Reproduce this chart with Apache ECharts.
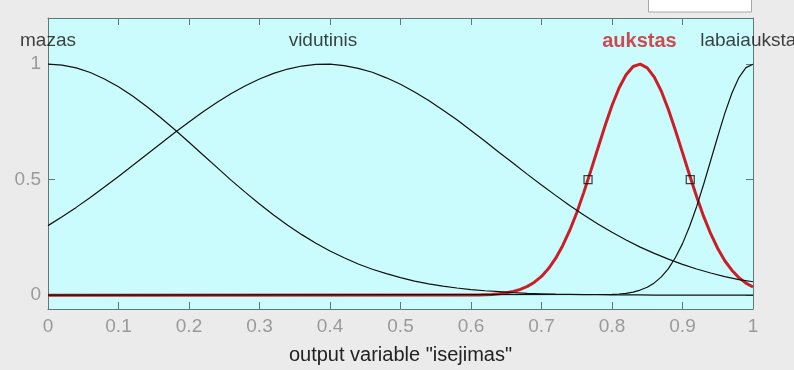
<!DOCTYPE html>
<html>
<head>
<meta charset="utf-8">
<script src="https://cdn.jsdelivr.net/npm/echarts@6/dist/echarts.min.js"></script>
<style>
  html, body { margin: 0; padding: 0; background: #ebebeb; }
  #chart { width: 794px; height: 370px; }
</style>
</head>
<body>
<div id="chart"></div>
<script>
// Membership functions of the output variable "isejimas"
const xStep = [0,0.02,0.04,0.06,0.08,0.10,0.12,0.14,0.16,0.18,0.20,0.22,0.24,0.26,0.28,0.30,0.32,0.34,0.36,0.38,0.40,0.42,0.44,0.46,0.48,0.50,0.52,0.54,0.56,0.58,0.60,0.62,0.64,0.66,0.68,0.70,0.72,0.74,0.76,0.78,0.80,0.82,0.84,0.86,0.88,0.90,0.92,0.94,0.96,0.98,1.00];

const mazas = [1,0.996,0.984,0.964,0.936,0.902,0.862,0.817,0.768,0.716,0.662,0.607,0.552,0.497,0.445,0.395,0.347,0.303,0.262,0.225,0.191,0.162,0.135,0.112,0.093,0.076,0.061,0.049,0.039,0.031,0.024,0.019,0.015,0.011,0.008,0.006,0.004,0.003,0.002,0.002,0.001,0.001,0.001,0,0,0,0,0,0,0,0];

const vidutinis = [0.301,0.339,0.380,0.423,0.468,0.514,0.561,0.609,0.657,0.704,0.750,0.794,0.835,0.873,0.907,0.936,0.960,0.979,0.992,0.999,1.000,0.994,0.982,0.965,0.941,0.913,0.880,0.843,0.802,0.759,0.713,0.666,0.618,0.571,0.523,0.477,0.432,0.388,0.347,0.308,0.272,0.239,0.208,0.181,0.156,0.133,0.113,0.096,0.080,0.067,0.058];

const aukstasX = [0,0.60,0.61,0.62,0.63,0.64,0.65,0.66,0.67,0.68,0.69,0.70,0.71,0.72,0.73,0.74,0.75,0.76,0.77,0.78,0.79,0.80,0.81,0.82,0.83,0.84,0.85,0.86,0.87,0.88,0.89,0.90,0.91,0.92,0.93,0.94,0.95,0.96,0.97,0.98,0.99,1.00];
const aukstas = [0,0.001,0.001,0.002,0.003,0.006,0.010,0.016,0.025,0.038,0.056,0.081,0.115,0.159,0.214,0.280,0.357,0.445,0.539,0.636,0.732,0.821,0.897,0.954,0.990,1.000,0.984,0.944,0.883,0.804,0.713,0.617,0.520,0.427,0.341,0.266,0.202,0.149,0.108,0.076,0.052,0.035];

const labaiX = [0,0.80,0.81,0.82,0.83,0.84,0.85,0.86,0.87,0.88,0.89,0.90,0.91,0.92,0.93,0.94,0.95,0.96,0.97,0.98,0.99,1.00];
const labaiaukstas = [0,0.003,0.005,0.008,0.013,0.022,0.034,0.053,0.079,0.115,0.163,0.223,0.297,0.383,0.480,0.583,0.687,0.787,0.874,0.942,0.985,1];

// Selected MF handle points (x where aukstas = 0.5)
const handleX = [0.766, 0.911];
const handleY = [0.5, 0.5];

// MF names and their centres
const mfNames = ['mazas', 'vidutinis', 'aukstas', 'labaiaukstas'];
const mfCenters = [0, 0.39, 0.839, 1];

const xTicks = [0,0.1,0.2,0.3,0.4,0.5,0.6,0.7,0.8,0.9,1];
const yTicks = [0, 0.5, 1];

const zip = (xs, ys) => xs.map((x, i) => [x, ys[i]]);

const frameColor = '#5e7878';
const labelColor = '#9a9a9a';
const font = 'Liberation Sans, Arial, sans-serif';
const nameY = 1.1;

const chart = echarts.init(document.getElementById('chart'));
chart.setOption({
  animation: false,
  backgroundColor: '#ebebeb',
  grid: {
    left: 48, right: 41, top: 18, bottom: 58,
    show: true, backgroundColor: '#cbfcfd', borderWidth: 0
  },
  xAxis: [{
    type: 'value', min: 0, max: 1,
    axisLine: { show: true, onZero: false, lineStyle: { color: frameColor, width: 1 } },
    axisTick: { show: true, inside: true, length: 7, customValues: xTicks, lineStyle: { color: frameColor } },
    axisLabel: { customValues: xTicks, color: labelColor, fontSize: 19, fontFamily: font, margin: 8,
      formatter: v => String(v) },
    splitLine: { show: false },
    name: 'output variable "isejimas"',
    nameLocation: 'middle', nameGap: 36,
    nameTextStyle: { color: '#222', fontSize: 20, fontFamily: font }
  }, {
    type: 'value', min: 0, max: 1, position: 'top',
    axisLine: { show: true, onZero: false, lineStyle: { color: frameColor, width: 1 } },
    axisTick: { show: true, inside: true, length: 7, customValues: xTicks, lineStyle: { color: frameColor } },
    axisLabel: { show: false }, splitLine: { show: false }
  }],
  yAxis: [{
    type: 'value', min: -0.06, max: 1.2,
    axisLine: { show: true, onZero: false, lineStyle: { color: frameColor, width: 1 } },
    axisTick: { show: true, inside: true, length: 7, customValues: yTicks, lineStyle: { color: frameColor } },
    axisLabel: { customValues: yTicks, color: labelColor, fontSize: 19, fontFamily: font, margin: 7,
      formatter: v => String(v) },
    splitLine: { show: false }
  }, {
    type: 'value', min: -0.06, max: 1.2, position: 'right',
    axisLine: { show: true, onZero: false, lineStyle: { color: frameColor, width: 1 } },
    axisTick: { show: true, inside: true, length: 7, customValues: yTicks, lineStyle: { color: frameColor } },
    axisLabel: { show: false }, splitLine: { show: false }
  }],
  series: [
    {
      name: 'aukstas', type: 'line', z: 2, symbol: 'none',
      lineStyle: { color: '#cc1e26', width: 3 },
      data: zip(aukstasX, aukstas)
    },
    {
      name: 'mazas', type: 'line', z: 3, symbol: 'none',
      lineStyle: { color: '#111', width: 1.2 },
      data: zip(xStep, mazas)
    },
    {
      name: 'vidutinis', type: 'line', z: 3, symbol: 'none',
      lineStyle: { color: '#111', width: 1.2 },
      data: zip(xStep, vidutinis)
    },
    {
      name: 'labaiaukstas', type: 'line', z: 3, symbol: 'none',
      lineStyle: { color: '#111', width: 1.2 },
      data: zip(labaiX, labaiaukstas)
    },
    {
      name: 'handles', type: 'scatter', z: 4, symbol: 'rect', symbolSize: 8,
      itemStyle: { color: 'rgba(0,0,0,0)', borderColor: '#111', borderWidth: 1.2 },
      data: zip(handleX, handleY)
    },
    {
      name: 'mfLabels', type: 'scatter', z: 5, symbolSize: 0, clip: false, silent: true,
      data: mfNames.map((n, i) => ({
        value: [mfCenters[i], nameY],
        name: n,
        label: n === 'aukstas'
          ? { color: '#cc1e26', fontWeight: 'bold', fontSize: 20 }
          : { color: '#111', fontSize: 19 }
      })),
      label: {
        show: true, position: 'inside', formatter: p => p.name,
        fontFamily: font, align: 'center', verticalAlign: 'middle'
      }
    }
  ],
  graphic: [
    {
      type: 'rect', z: 100,
      shape: { x: 648.5, y: -2, width: 103, height: 14 },
      style: { fill: '#ffffff', stroke: '#a8a8a8', lineWidth: 1 }
    }
  ]
});
</script>
</body>
</html>
